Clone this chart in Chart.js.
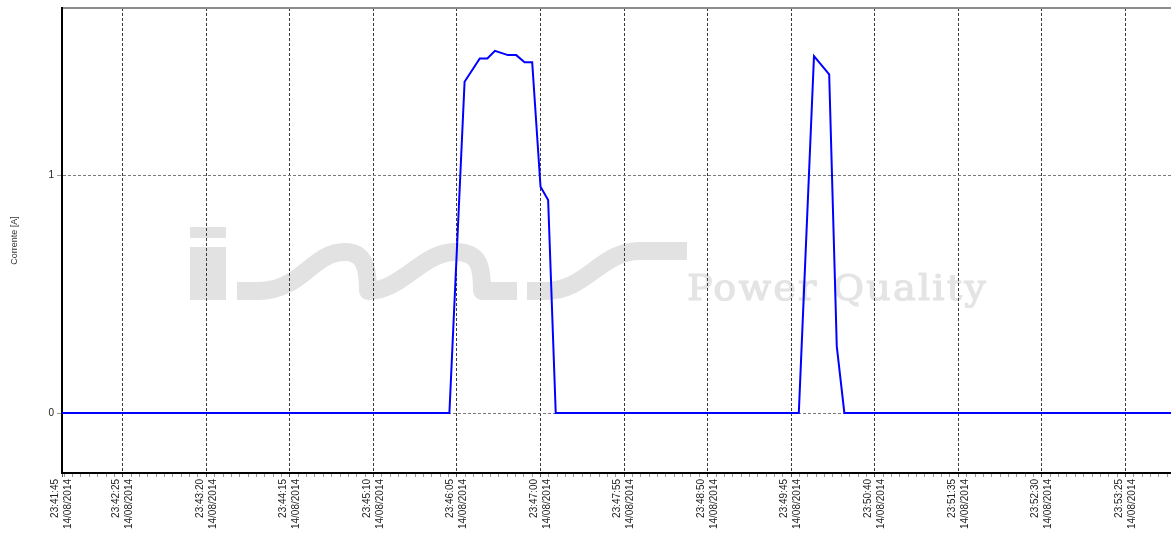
<!DOCTYPE html>
<html lang="it">
<head>
<meta charset="utf-8">
<title>Corrente [A]</title>
<script src="https://cdn.jsdelivr.net/npm/chart.js@4/dist/chart.umd.min.js"></script>
<style>
  html, body { margin: 0; padding: 0; background: #fff; }
  canvas { display: block; }
</style>
</head>
<body>
<canvas id="grafico" width="1171" height="534"></canvas>
<script>
// etichette principali dell'asse dei tempi
const orari = ['23:41:45', '23:42:25', '23:43:20', '23:44:15', '23:45:10', '23:46:05', '23:47:00',
               '23:47:55', '23:48:50', '23:49:45', '23:50:40', '23:51:35', '23:52:30', '23:53:25'];
const dataMisura = '14/08/2014';

// campioni: secondi dalle 23:41:45 e corrente [A]
const secondi  = [0, 255, 265, 275, 280, 285, 293.5, 299, 304.5, 309.5, 315, 320, 325, 485, 495, 505, 510, 515, 730];
const corrente = [0, 0, 1.392, 1.490, 1.490, 1.522, 1.504, 1.504, 1.474, 1.474, 0.951, 0.895, 0, 0, 1.500, 1.423, 0.28, 0, 0];

const tacheY = [0, 1];
const passoMinore = 5.5; // tacche secondarie ogni 5,5 s
const fineAsse = 730;

function inSecondi(hms) {
  const p = hms.split(':').map(Number);
  return p[0] * 3600 + p[1] * 60 + p[2];
}
const inizio = inSecondi(orari[0]);
const posOrari = orari.map(o => inSecondi(o) - inizio);

// tacche secondarie allineate alle principali
const valoriTacche = [0];
for (let v = posOrari[1] % passoMinore; v <= fineAsse; v += passoMinore) {
  if (v > 0.01) valoriTacche.push(v);
}

function indiceOrario(v) {
  return posOrari.findIndex(p => Math.abs(p - v) < 0.01);
}

const font = { family: 'Liberation Sans, Arial, sans-serif', size: 10, lineHeight: 1.3 };

// logo in filigrana, dietro la griglia
const filigrana = {
  id: 'filigrana',
  beforeDraw(chart) {
    const ctx = chart.ctx;
    const a = chart.chartArea;
    ctx.save();
    ctx.translate(a.left + 128, a.top + 219);
    ctx.fillStyle = '#e2e2e2';
    ctx.fillRect(0, 0, 36, 11);
    ctx.fillRect(0, 20, 36, 53);

    ctx.strokeStyle = '#e2e2e2';
    ctx.lineWidth = 18;
    ctx.lineCap = 'butt';
    ctx.lineJoin = 'round';
    ctx.beginPath();
    ctx.moveTo(47, 64);
    ctx.lineTo(68, 64);
    ctx.bezierCurveTo(112, 64, 122, 25, 155, 25);
    ctx.bezierCurveTo(174, 25, 178, 40, 178, 64);
    ctx.bezierCurveTo(212, 64, 232, 25, 265, 25);
    ctx.bezierCurveTo(290, 25, 292, 40, 292, 64);
    ctx.lineTo(327, 64);
    ctx.stroke();

    ctx.beginPath();
    ctx.moveTo(337, 64);
    ctx.lineTo(355, 64);
    ctx.bezierCurveTo(397, 64, 410, 24, 450, 24);
    ctx.lineTo(497, 24);
    ctx.stroke();

    ctx.fillStyle = '#e4e4e4';
    ctx.strokeStyle = '#e4e4e4';
    ctx.lineWidth = 1.2;
    ctx.font = '35px "DejaVu Serif", serif';
    ctx.letterSpacing = '2px';
    const testo = 'Power Quality';
    const w = ctx.measureText(testo).width;
    ctx.translate(497, 73);
    ctx.scale(301 / w, 1);
    ctx.textBaseline = 'alphabetic';
    ctx.fillText(testo, 0, 0);
    ctx.strokeText(testo, 0, 0);
    ctx.restore();
  }
};

const ctx = document.getElementById('grafico').getContext('2d');
const grafico = new Chart(ctx, {
  type: 'line',
  data: {
    datasets: [{
      label: 'Corrente [A]',
      data: secondi.map((s, i) => ({ x: s, y: corrente[i] })),
      borderColor: '#0000ff',
      borderWidth: 2,
      pointRadius: 0,
      tension: 0,
      fill: false
    }]
  },
  options: {
    responsive: false,
    animation: false,
    layout: { padding: { top: 8, left: 0, right: 0, bottom: 0 } },
    plugins: {
      legend: { display: false },
      tooltip: { enabled: false }
    },
    scales: {
      x: {
        type: 'linear',
        position: 'bottom',
        min: 0,
        max: fineAsse,
        afterBuildTicks: s => { s.ticks = valoriTacche.map(v => ({ value: v })); },
        afterFit: s => { s.height = 61; s.paddingLeft = 0; s.paddingRight = 0; },
        ticks: {
          autoSkip: false,
          minRotation: 90,
          maxRotation: 90,
          padding: 2,
          labelOffset: -6.5,
          font: font,
          color: '#222',
          callback: v => {
            const i = indiceOrario(v);
            return i >= 0 ? [orari[i], dataMisura] : '';
          }
        },
        grid: {
          color: c => (c.tick && c.tick.value > 0 && indiceOrario(c.tick.value) >= 0) ? '#3a3a3a' : 'rgba(0,0,0,0)',
          tickColor: c => (c.tick && indiceOrario(c.tick.value) >= 0) ? '#555' : '#999',
          tickLength: 4,
          lineWidth: 1
        },
        border: { color: '#000', width: 2, dash: [3, 2] }
      },
      xTop: {
        axis: 'x',
        type: 'linear',
        position: 'top',
        min: 0,
        max: fineAsse,
        afterFit: s => { s.height = 0; },
        ticks: { display: false },
        grid: { color: 'rgba(0,0,0,0)', drawTicks: false, drawOnChartArea: false },
        border: { color: '#8c8c8c', width: 2 }
      },
      y: {
        min: -0.252,
        max: 1.702,
        afterBuildTicks: s => { s.ticks = tacheY.map(v => ({ value: v })); },
        afterFit: s => { s.width = 62; s.paddingTop = 0; s.paddingBottom = 0; },
        ticks: { padding: 3, font: font, color: '#222' },
        grid: { color: '#7a7a7a', tickColor: '#999', tickLength: 5 },
        border: { color: '#000', width: 2, dash: [3, 2] },
        title: {
          display: true,
          text: 'Corrente [A]',
          color: '#333',
          font: { family: 'Liberation Sans, Arial, sans-serif', size: 9 },
          padding: { top: 9, bottom: 0 }
        }
      }
    }
  },
  plugins: [filigrana]
});
</script>
</body>
</html>
